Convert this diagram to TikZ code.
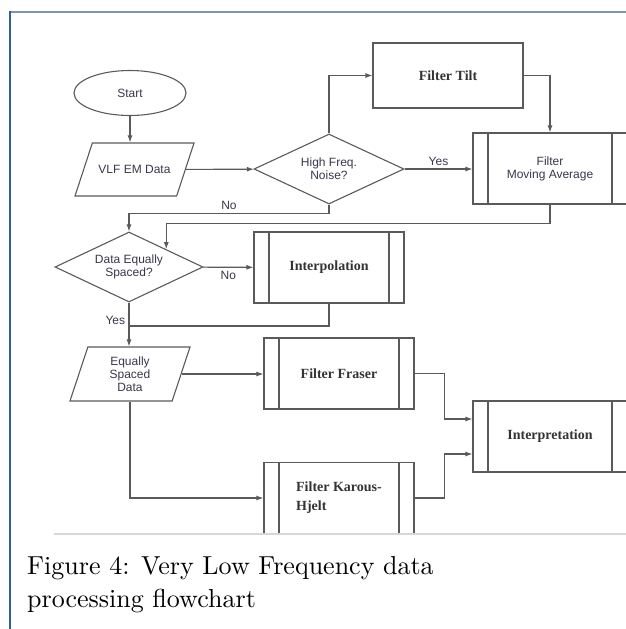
\documentclass[tikz,border=0pt]{standalone}
\usepackage{fontspec}
\newfontfamily\arialfont{Liberation Sans}
\newfontfamily\timesfont{Liberation Serif}
\newfontfamily\capfont{lmroman10-regular}[Extension=.otf]
\usetikzlibrary{shapes.geometric,arrows.meta}
\definecolor{linegray}{RGB}{90,90,90}
\definecolor{frameleft}{RGB}{50,95,150}
\definecolor{frametop}{RGB}{125,150,178}
\definecolor{sanstext}{RGB}{55,55,75}
\definecolor{cutgray}{RGB}{215,215,215}
\tikzset{
  flow/.style={draw=linegray, line width=1.1pt},
  sanslbl/.style={font=\arialfont\fontsize{12}{13}\selectfont, text=sanstext, align=center},
  seriflbl/.style={font=\timesfont\bfseries\fontsize{14}{19}\selectfont, text=black!80},
  startnode/.style={ellipse, flow, minimum width=112pt, minimum height=45pt, sanslbl},
  datanode/.style={trapezium, trapezium left angle=71, trapezium right angle=109,
    trapezium stretches body=true, flow, minimum width=119pt, minimum height=53pt,
    inner xsep=0pt, inner ysep=21pt, sanslbl},
  decision/.style={diamond, aspect=2.1, flow, minimum width=150pt, minimum height=70pt,
    inner sep=0pt, sanslbl},
  tiltbox/.style={rectangle, flow, minimum width=150pt, minimum height=65pt, seriflbl},
  procbox/.style={rectangle, flow, minimum width=150pt, minimum height=71pt,
    path picture={
      \draw[linegray, line width=1.1pt]
        ([xshift=15pt]path picture bounding box.north west) --
        ([xshift=15pt]path picture bounding box.south west)
        ([xshift=-15pt]path picture bounding box.north east) --
        ([xshift=-15pt]path picture bounding box.south east);}}
}
\begin{document}
\begin{tikzpicture}[x=1pt,y=-1pt,>={Latex[length=7pt,width=5pt]}]
    \clip (0,0) rectangle (626,629);
    \draw[frametop, line width=2pt] (10,12) -- (626,12);
    \draw[frameleft, line width=1.5pt] (10,11) -- (10,629);

    \node[startnode] (start) at (130,93) {Start};
    \node[datanode] (vlf) at (134.5,169.5) {VLF EM Data};
    \node[decision] (noise) at (329,169) {High Freq.\\Noise?};
    \node[tiltbox] (tilt) at (448,75.5) {Filter Tilt};
    \node[procbox, sanslbl, minimum width=154pt] (movavg) at (550,168.5) {Filter\\Moving Average};
    \node[decision, minimum width=148pt] (spaced) at (129,267) {Data Equally\\Spaced?};
    \node[procbox, seriflbl] (interp) at (329,267.5) {Interpolation};
    \node[datanode, minimum width=120pt, minimum height=54pt, inner ysep=8.5pt] (eqdata) at (130,374) {Equally\\Spaced\\Data};
    \node[procbox, seriflbl] (fraser) at (339,373.5) {Filter Fraser};
    \node[procbox, seriflbl, align=left] (karous) at (339,498) {Filter Karous-\\Hjelt};
    \node[procbox, seriflbl, minimum width=154pt] (interpret) at (550,436.5) {Interpretation};

    \draw[flow,->] (start) -- (start |- vlf.north);
    \draw[flow,->] (vlf) -- (noise);
    \draw[flow,->] (noise) |- (tilt);
    \draw[flow,->] (tilt) -| (movavg);
    \draw[flow,->] (noise.east) -- (noise.east -| movavg.west) node[above,midway,sanslbl] {Yes};
    \draw[flow,->] (movavg.south) -- ++(0,19) -| (spaced.north east);
    \draw[flow,->] (noise.south) -- ++(0,9) -| (spaced.north) node[pos=0.25,above,sanslbl] {No};
    \draw[flow,->] (spaced) -- (interp) node[midway,below,sanslbl] {No};
    \draw[flow,->] (spaced.south) -- (spaced.south |- eqdata.north) node[pos=0.4,left,sanslbl] {Yes};
    \coordinate (merge) at (spaced.south |- 0,326);
    \draw[flow] (interp) |- (merge);
    \draw[flow,->] (eqdata.east) -- (eqdata.east -| fraser.west);
    \draw[flow,->] (eqdata) |- (karous);
    \draw[flow,->] (fraser.east) -- ++(30,0) |- ([yshift=17.5pt]interpret.west);
    \draw[flow,->] (karous.east) -- ++(30,0) |- ([yshift=-17.5pt]interpret.west);

    \draw[cutgray, line width=1.5pt] (54,534) -- (626,534);
    \node[anchor=north west, inner sep=0pt, align=left, font=\capfont\fontsize{26}{33}\selectfont] (caption) at (27,556)
      {Figure 4: Very Low Frequency data\\processing flowchart};
  \end{tikzpicture}
\end{document}
